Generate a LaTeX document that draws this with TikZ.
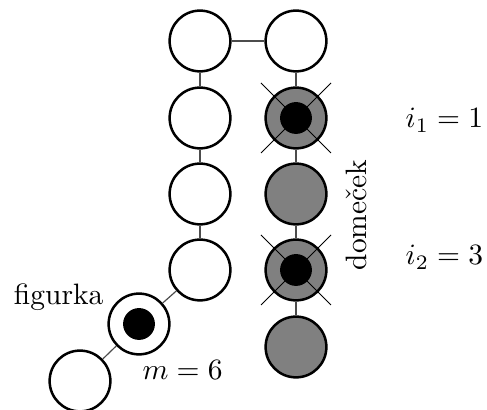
\documentclass[tikz,border=0pt]{standalone}
\begin{document}
\begin{tikzpicture}[x=0.339pt,y=-0.339pt,
  field/.style={circle,draw=black,line width=0.85pt,fill=white,minimum size=20.6pt,inner sep=0pt},
  home/.style={field,fill=black!50},
  dot/.style={circle,fill=black,minimum size=10.8pt,inner sep=0pt},
  link/.style={draw=black!70,line width=0.4pt},
  crossln/.style={draw=black,line width=0.35pt}]
\useasboundingbox (0,0) rectangle (487,410);
% left column
\node[field] (L1) at (200,41) {};
\node[field] (L2) at (200,118) {};
\node[field] (L3) at (200,194) {};
\node[field] (L4) at (200,270) {};
\node[field] (F) at (139,324) {};
\node[field] (B) at (80,381) {};
% right column
\node[field] (R1) at (296,41) {};
\node[home] (R2) at (296,118) {};
\node[home] (R3) at (296,194) {};
\node[home] (R4) at (296,270) {};
\node[home] (R5) at (296,347) {};
% links
\draw[link] (L1) -- (R1);
\draw[link] (L1) -- (L2);
\draw[link] (L2) -- (L3);
\draw[link] (L3) -- (L4);
\draw[link] (L4) -- (F);
\draw[link] (F) -- (B);
\draw[link] (R1) -- (R2);
\draw[link] (R2) -- (R3);
\draw[link] (R3) -- (R4);
\draw[link] (R4) -- (R5);
% crosses
\foreach \n in {R2,R4}{
  \coordinate (c1) at ([shift={(-35,-35)}]\n.center);
  \coordinate (c2) at ([shift={(35,35)}]\n.center);
  \coordinate (c3) at ([shift={(-35,35)}]\n.center);
  \coordinate (c4) at ([shift={(35,-35)}]\n.center);
  \draw[crossln] (c1) -- (c2);
  \draw[crossln] (c3) -- (c4);
}
% pieces
\node[dot] (d1) at (R2) {};
\node[dot] (d2) at (R4) {};
\node[dot] (d3) at (F) {};
% labels
\node[anchor=base east,inner sep=0pt] (lf) at (104,305) {figurka};
\node[anchor=base west,inner sep=0pt] (lm) at (142,380) {$m=6$};
\node[anchor=base west,inner sep=0pt] (li1) at (405,128) {$i_1=1$};
\node[anchor=base west,inner sep=0pt] (li2) at (405,265) {$i_2=3$};
\node[anchor=base,rotate=90,inner sep=0pt] (ld) at (366,215) {domeček};
\end{tikzpicture}
\end{document}
